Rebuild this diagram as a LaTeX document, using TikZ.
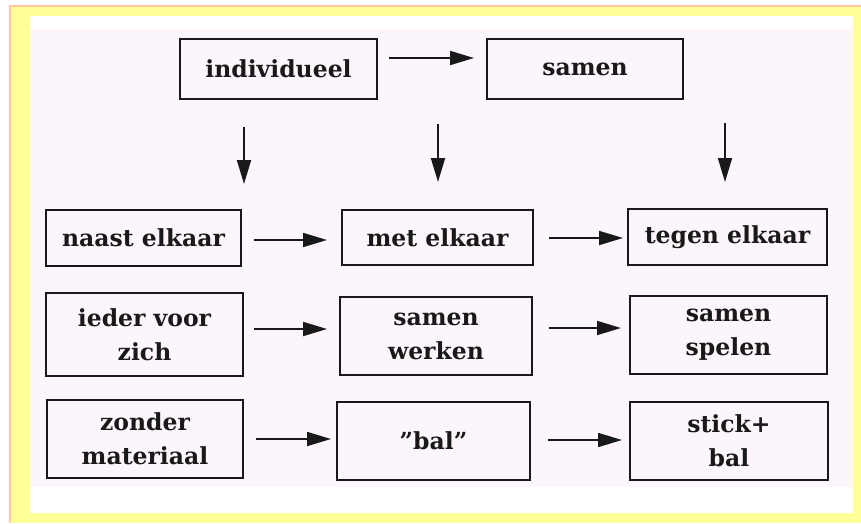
\documentclass[tikz,border=0pt]{standalone}
\usepackage{fontspec}
\setmainfont{DejaVu Serif}
\usetikzlibrary{arrows.meta}
\definecolor{peach}{RGB}{255,200,160}
\definecolor{lyellow}{RGB}{255,255,153}
\definecolor{lpink}{RGB}{252,246,252}
\definecolor{ink}{RGB}{25,25,25}
\begin{document}
\begin{tikzpicture}[x=1pt,y=-1pt,
  box/.style={draw=ink, line width=2pt, inner sep=0pt, align=center,
    font=\bfseries\fontsize{23.5}{34}\selectfont, text=ink},
  arr/.style={draw=ink, line width=1.8pt, -{Triangle[length=24pt,width=14pt]}}]
\useasboundingbox (0,0) rectangle (861,523);
% background frame
\fill[white] (0,0) rectangle (861,523);
\fill[lyellow] (10,6) rectangle (861,523);
\draw[peach, line width=2pt] (10,523) -- (10,6) -- (861,6);
\fill[white] (30,16) rectangle (853,513);
\fill[lpink] (30,29) rectangle (853,487);
% boxes
\node[box, minimum width=197pt, minimum height=60pt] (ind) at (278.5,69) {individueel};
\node[box, minimum width=196pt, minimum height=60pt] (sam) at (585,69) {samen};
\node[box, minimum width=195pt, minimum height=56pt] (naast) at (143.5,238) {naast elkaar};
\node[box, minimum width=191pt, minimum height=55pt] (met) at (437.5,237.5) {met elkaar};
\node[box, minimum width=199pt, minimum height=56pt] (tegen) at (727.5,237) {tegen elkaar};
\node[box, minimum width=197pt, minimum height=83pt] (ieder) at (144.5,334.5) {ieder voor\\zich};
\node[box, minimum width=192pt, minimum height=78pt] (werk) at (436,336) {samen\\werken};
\node[box, minimum width=197pt, minimum height=78pt] (spel) at (728.5,335) {samen\\spelen};
\node[box, minimum width=196pt, minimum height=78pt] (zonder) at (145,439) {zonder\\materiaal};
\node[box, minimum width=193pt, minimum height=78pt] (bal) at (433.5,441) {\symbol{34}bal\symbol{34}};
\node[box, minimum width=198pt, minimum height=78pt] (stick) at (729,441) {stick+\\bal};
% horizontal arrows
\draw[arr, shorten <=11pt, shorten >=12pt] ([yshift=11pt]ind.east) -- ([yshift=11pt]sam.west);
\draw[arr, shorten <=12pt, shorten >=14pt] ([yshift=-2pt]naast.east) -- ([yshift=-2pt]naast.east -| met.west);
\draw[arr, shorten <=15pt, shorten >=4pt] ([yshift=-0.5pt]met.east) -- ([yshift=-0.5pt]met.east -| tegen.west);
\draw[arr, shorten <=10pt, shorten >=12pt] ([yshift=5.5pt]ieder.east) -- ([yshift=5.5pt]ieder.east -| werk.west);
\draw[arr, shorten <=16pt, shorten >=8pt] ([yshift=8pt]werk.east) -- ([yshift=8pt]werk.east -| spel.west);
\draw[arr, shorten <=12pt, shorten >=5pt] (zonder.east) -- (zonder.east -| bal.west);
\draw[arr, shorten <=17pt, shorten >=7pt] ([yshift=1pt]bal.east) -- ([yshift=1pt]bal.east -| stick.west);
% vertical arrows
\coordinate (d1) at (244,127);
\coordinate (d2) at (438,124);
\coordinate (d3) at (725,123);
\draw[arr, shorten >=25pt] (d1) -- (d1 |- naast.north);
\draw[arr, shorten >=27pt] (d2) -- (d2 |- met.north);
\draw[arr, shorten >=26pt] (d3) -- (d3 |- tegen.north);
\end{tikzpicture}
\end{document}
